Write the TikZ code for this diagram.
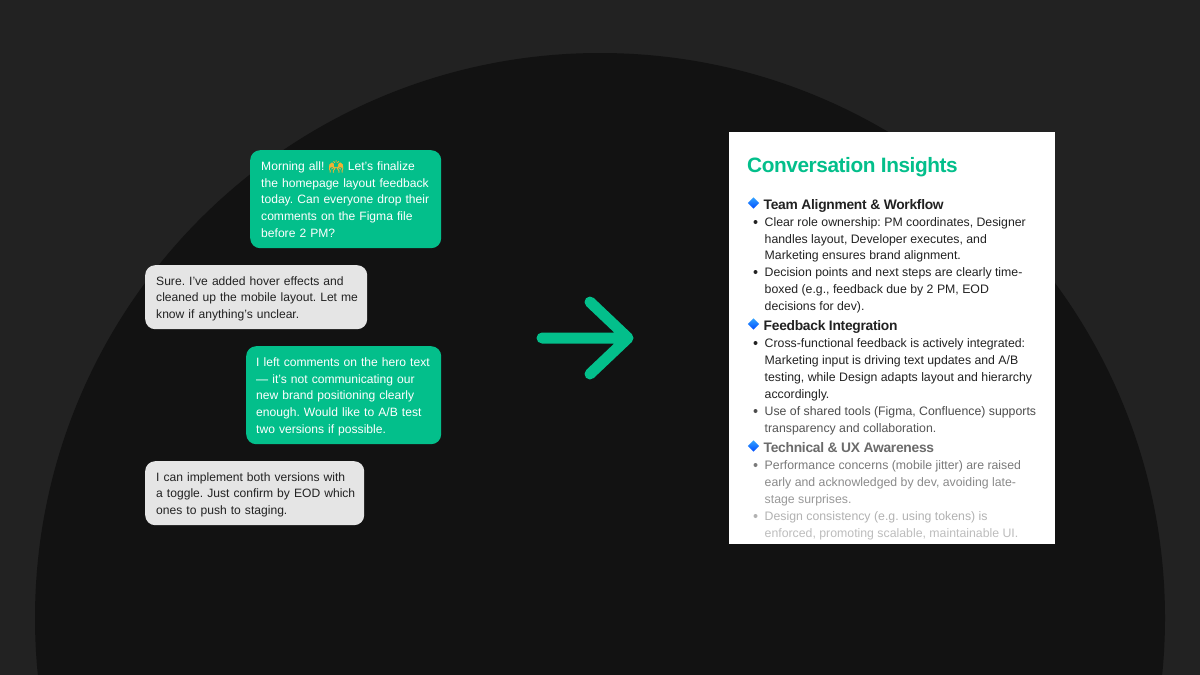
\documentclass[tikz,border=0pt]{standalone}
\usepackage{fontspec}
\usepackage{tikz}
\usetikzlibrary{shapes.geometric}
\setmainfont{Liberation Sans}
\newfontfamily\emojifont[FakeBold=1.5]{Noto Emoji}
\newfontfamily\headfont[LetterSpace=-2.0]{Liberation Sans}
\definecolor{pagedark}{HTML}{222222}
\definecolor{domedark}{HTML}{121212}
\definecolor{chatgreen}{HTML}{03BF8B}
\definecolor{chatgrey}{HTML}{E5E5E5}
\definecolor{inkdark}{HTML}{222222}
\definecolor{handsyellow}{HTML}{F2B233}
\tikzset{
  bubble/.style={rounded corners=10pt,anchor=north west,inner sep=0pt,align=left,font=\fontsize{12.1}{16.7}\selectfont\frenchspacing,execute at begin node=\rule{0pt}{12pt}},
  cardline/.style={anchor=base west,inner sep=0pt,font=\fontsize{12.3}{15}\selectfont\frenchspacing},
  cardhead/.style={anchor=base west,inner sep=0pt,font=\headfont\fontsize{13.8}{15}\selectfont\bfseries},
  gem/.style={diamond,top color=blue!45!cyan!80,bottom color=blue!70!cyan,inner sep=0pt,minimum size=11.5pt},
  dot/.style={circle,inner sep=0pt,minimum size=4pt}
}
\begin{document}
\begin{tikzpicture}[x=1pt,y=-1pt]
\useasboundingbox (0,0) rectangle (1200,675);
\fill[pagedark] (0,0) rectangle (1200,675);
\begin{scope}
\clip (0,0) rectangle (1200,675);
\fill[domedark] (600,618) circle (565);
\end{scope}
% chat bubbles
\node[bubble,fill=chatgreen,text=white,minimum width=191pt,minimum height=98pt,text width=191pt] (msgone) at (250,150) {\hspace*{11pt}Morning all! \smash{\emojifont\color{handsyellow}\symbol{"1F64C}} Let's finalize\\\hspace*{11pt}the homepage layout feedback\\\hspace*{11pt}today. Can everyone drop their\\\hspace*{11pt}comments on the Figma file\\\hspace*{11pt}before 2 PM?\rule[-2.5pt]{0pt}{2.5pt}};
\node[bubble,fill=chatgrey,text=inkdark,minimum width=222pt,minimum height=64pt,text width=222pt] (msgtwo) at (145,265) {\hspace*{11pt}Sure. I've added hover effects and\\\hspace*{11pt}cleaned up the mobile layout. Let me\\\hspace*{11pt}know if anything's unclear.};
\node[bubble,fill=chatgreen,text=white,minimum width=195pt,minimum height=98pt,text width=195pt] (msgthree) at (246,346) {\hspace*{10pt}I left comments on the hero text\\\hspace*{10pt}--- it's not communicating our\\\hspace*{10pt}new brand positioning clearly\\\hspace*{10pt}enough. Would like to A/B test\\\hspace*{10pt}two versions if possible.};
\node[bubble,fill=chatgrey,text=inkdark,minimum width=219pt,minimum height=64pt,text width=219pt] (msgfour) at (145,461) {\hspace*{11pt}I can implement both versions with\\\hspace*{11pt}a toggle. Just confirm by EOD which\\\hspace*{11pt}ones to push to staging.};
% arrow
\coordinate (tail) at (542,338);
\coordinate (tip) at (628,338);
\coordinate (barbup) at (590,302);
\coordinate (barbdown) at (590,374);
\draw[chatgreen,line width=11pt,line cap=round,line join=round] (tail) -- (tip) (barbup) -- (tip) -- (barbdown);
% insights card
\fill[white] (729,132) rectangle (1055,544);
\node[anchor=base west,inner sep=0pt,text=chatgreen,font=\headfont\fontsize{20.8}{24}\selectfont\bfseries] (title) at (747,172.5) {Conversation Insights};
\node[gem] (gemone) at (753.5,203) {};
\node[cardhead,text=inkdark] (headone) at (763.5,209) {Team Alignment \& Workflow};
\node[dot,fill=inkdark] (dotone) at (755.5,222) {};
\node[cardline,text=inkdark] (lineone) at (764.5,226) {Clear role ownership: PM coordinates, Designer};
\node[cardline,text=inkdark] (linetwo) at (764.5,243) {handles layout, Developer executes, and};
\node[cardline,text=inkdark] (linethree) at (764.5,259.5) {Marketing ensures brand alignment.};
\node[dot,fill=inkdark] (dottwo) at (755.5,272) {};
\node[cardline,text=inkdark] (linefour) at (764.5,276.5) {Decision points and next steps are clearly time-};
\node[cardline,text=inkdark] (linefive) at (764.5,293.5) {boxed (e.g., feedback due by 2 PM, EOD};
\node[cardline,text=inkdark] (linesix) at (764.5,310.5) {decisions for dev).};
\node[gem] (gemtwo) at (753.5,324) {};
\node[cardhead,text=inkdark] (headtwo) at (763.5,330) {Feedback Integration};
\node[dot,fill=inkdark] (dotthree) at (755.5,343) {};
\node[cardline,text=inkdark] (lineseven) at (764.5,347) {Cross-functional feedback is actively integrated:};
\node[cardline,text=inkdark] (lineeight) at (764.5,364) {Marketing input is driving text updates and A/B};
\node[cardline,text=inkdark] (linenine) at (764.5,381) {testing, while Design adapts layout and hierarchy};
\node[cardline,text=inkdark] (lineten) at (764.5,398) {accordingly.};
\node[dot,fill=black!70] (dotfour) at (755.5,411) {};
\node[cardline,text=black!70] (lineeleven) at (764.5,415) {Use of shared tools (Figma, Confluence) supports};
\node[cardline,text=black!66] (linetwelve) at (764.5,432) {transparency and collaboration.};
\node[gem] (gemthree) at (753.5,446) {};
\node[cardhead,text=black!58] (headthree) at (763.5,452) {Technical \& UX Awareness};
\node[dot,fill=black!52] (dotfive) at (755.5,465) {};
\node[cardline,text=black!52] (linethirteen) at (764.5,469) {Performance concerns (mobile jitter) are raised};
\node[cardline,text=black!46] (linefourteen) at (764.5,486) {early and acknowledged by dev, avoiding late-};
\node[cardline,text=black!40] (linefifteen) at (764.5,503) {stage surprises.};
\node[dot,fill=black!30] (dotsix) at (755.5,516) {};
\node[cardline,text=black!30] (linesixteen) at (764.5,520) {Design consistency (e.g. using tokens) is};
\node[cardline,text=black!26] (lineseventeen) at (764.5,537) {enforced, promoting scalable, maintainable UI.};
\end{tikzpicture}
\end{document}
